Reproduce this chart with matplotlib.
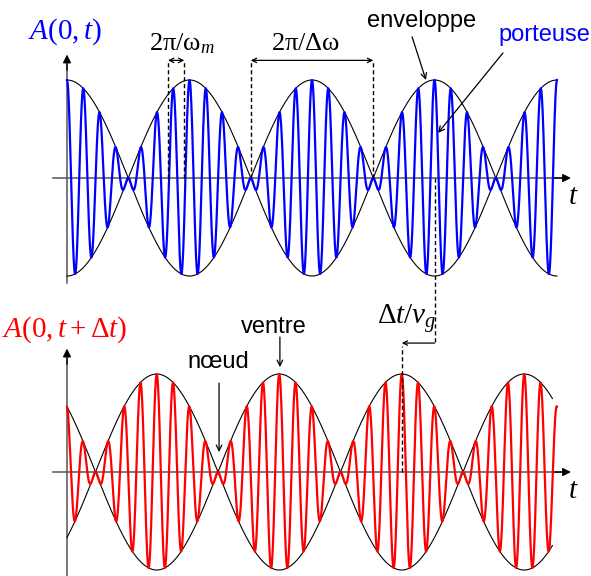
import matplotlib
matplotlib.use("Agg")
import matplotlib.pyplot as plt
import numpy as np

plt.rcParams['mathtext.fontset'] = 'custom'
plt.rcParams['mathtext.rm'] = 'Liberation Serif'
plt.rcParams['mathtext.it'] = 'Liberation Serif:italic'

# parametres (unite de temps: 2pi/dw = 1 lobe)
dw = 1.0            # pulsation de battement
wm = 7.5            # pulsation moyenne (porteuse)
t_start = 0.0
t_end = 25.13       # 4 lobes
delay = 1.68        # decalage de l'enveloppe (dt/vg)
env_end_bas = 24.9

carrier_col = ['#0000ff', '#ff0000']
titles = [r'$A(0,t)$', r'$A(0,t+\mathrm{Δ}t)$']

t = np.linspace(t_start, t_end, 4000)


def signal(t, shift):
    env = np.cos(dw * (t + shift) / 2)
    return np.cos(wm * (t + shift)) * env, env


fig = plt.figure(figsize=(5.91, 5.76), dpi=100)
ax_h = fig.add_axes([0, 0.5, 1, 0.5])
ax_b = fig.add_axes([0, 0, 1, 0.5])
ax_h.set_xlim(-3.436, 26.876)
ax_h.set_ylim(-1.122, 1.816)
ax_b.set_xlim(-3.436, 26.876)
ax_b.set_ylim(-1.061, 1.878)

axcol = '#555555'
serif = dict(fontsize=19)
sans = dict(fontsize=17, family='Liberation Sans')
dash = dict(color='black', lw=1.0, linestyle=(0, (3, 2)))

for k, (ax, shift) in enumerate([(ax_h, 0.0), (ax_b, delay)]):
    ax.axis('off')
    # axes
    ax.plot([-0.72, 25.5], [0, 0], color=axcol, lw=1.1)
    ax.annotate('', xy=(25.85, 0), xytext=(25.0, 0),
                arrowprops=dict(arrowstyle='-|>', color='black', lw=1.0,
                                mutation_scale=12, shrinkA=0, shrinkB=0))
    ybas = -1.071 if k == 0 else -1.1
    ax.plot([0, 0], [ybas, 1.15], color=axcol, lw=1.1)
    ax.annotate('', xy=(0, 1.26), xytext=(0, 1.1),
                arrowprops=dict(arrowstyle='-|>', color='black', lw=1.0,
                                mutation_scale=12, shrinkA=0, shrinkB=0))
    ax.text(25.95, -0.18, r'$t$', ha='center', va='center', fontsize=21)

    # enveloppe
    t_env = t if k == 0 else t[t <= env_end_bas]
    _, env = signal(t_env, shift)
    ax.plot(t_env, env, color='black', lw=0.8)
    ax.plot(t_env, -env, color='black', lw=0.8)
    # porteuse
    a, _ = signal(t, shift)
    ax.plot(t, a, color=carrier_col[k], lw=1.6)

    ax.text(-0.10, 1.49 if k == 0 else 1.45, titles[k], color=carrier_col[k],
            ha='center', va='center', fontsize=21)

# haut : periodes
p_m = 2 * np.pi / wm
x0 = 5.18
ax_h.plot([x0, x0], [0, 1.20], **dash)
ax_h.plot([x0 + p_m, x0 + p_m], [0, 1.20], **dash)
ax_h.annotate('', xy=(x0, 1.20), xytext=(x0 + p_m, 1.20),
              arrowprops=dict(arrowstyle='<->', color='black', lw=0.9,
                              mutation_scale=8, shrinkA=0, shrinkB=0))
ax_h.text(4.20, 1.37, r'$\mathrm{2π/ω}_m$', ha='left', va='center', **serif)

ax_h.plot([3 * np.pi] * 2, [0, 1.20], **dash)
ax_h.plot([5 * np.pi] * 2, [0, 1.20], **dash)
ax_h.annotate('', xy=(3 * np.pi, 1.20), xytext=(5 * np.pi, 1.20),
              arrowprops=dict(arrowstyle='<->', color='black', lw=0.9,
                              mutation_scale=8, shrinkA=0, shrinkB=0))
ax_h.text(12.26, 1.38, r'$\mathrm{2π/Δω}$', ha='center', va='center', **serif)

ax_h.text(18.21, 1.60, 'enveloppe', ha='center', va='center', **sans)
ax_h.annotate('', xy=(18.41, 1.0), xytext=(17.70, 1.44),
              arrowprops=dict(arrowstyle='->', color='black', lw=0.9,
                              mutation_scale=10, shrinkA=0, shrinkB=0))
ax_h.text(24.47, 1.46, 'porteuse', color='#0000ff', ha='center', va='center', **sans)
ax_h.annotate('', xy=(19.03, 0.46), xytext=(22.36, 1.276),
              arrowprops=dict(arrowstyle='->', color='black', lw=0.9,
                              mutation_scale=10, shrinkA=0, shrinkB=0))

# decalage dt/vg
ax_h.plot([6 * np.pi] * 2, [0, -1.684], clip_on=False, **dash)
ax_b.annotate('', xy=(6 * np.pi - delay, 1.316), xytext=(6 * np.pi, 1.316),
              arrowprops=dict(arrowstyle='->', color='black', lw=0.9,
                              mutation_scale=8, shrinkA=0, shrinkB=0))
ax_b.plot([6 * np.pi - delay] * 2, [0, 1.29], **dash)
ax_b.text(17.44, 1.57, r'$\mathrm{Δ}t/v_g$', ha='center', va='center', fontsize=21)

# bas : ventre / noeud
ax_b.text(10.62, 1.48, 'ventre', ha='center', va='center', **sans)
ax_b.annotate('', xy=(10.92, 1.071), xytext=(10.92, 1.378),
              arrowprops=dict(arrowstyle='->', color='black', lw=0.9,
                              mutation_scale=10, shrinkA=0, shrinkB=0))
ax_b.text(7.75, 1.12, 'nœud', ha='center', va='center', **sans)
ax_b.annotate('', xy=(7.80, 0.204), xytext=(7.80, 0.908),
              arrowprops=dict(arrowstyle='->', color='black', lw=0.9,
                              mutation_scale=10, shrinkA=0, shrinkB=0))

fig.savefig('out.png', dpi=100)
